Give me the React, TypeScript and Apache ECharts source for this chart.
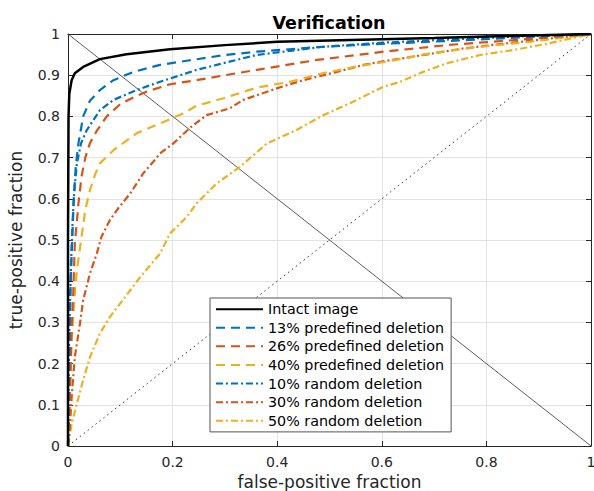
import React, { useEffect, useRef } from "react";
import * as echarts from "echarts";

const seriesNames = [
  "Intact image",
  "13% predefined deletion",
  "26% predefined deletion",
  "40% predefined deletion",
  "10% random deletion",
  "30% random deletion",
  "50% random deletion",
];

const intact = [[0,0],[0,0.5],[0.001,0.8],[0.0025,0.855],[0.007,0.888],[0.013,0.905],[0.029,0.92],[0.061,0.939],[0.112,0.951],[0.195,0.963],[0.3,0.973],[0.4,0.981],[0.5,0.984],[0.6,0.987],[0.7,0.99],[0.8,0.994],[0.9,0.997],[1,1]];
const pred13 = [[0,0],[0.002,0.2],[0.005,0.4],[0.008,0.5],[0.011,0.6],[0.015,0.68],[0.02,0.735],[0.029,0.8],[0.042,0.838],[0.061,0.864],[0.087,0.888],[0.125,0.908],[0.176,0.925],[0.227,0.935],[0.3,0.949],[0.361,0.957],[0.476,0.968],[0.6,0.976],[0.724,0.983],[0.883,0.993],[1,1]];
const pred26 = [[0,0],[0.003,0.1],[0.006,0.25],[0.01,0.37],[0.013,0.49],[0.02,0.589],[0.026,0.655],[0.033,0.7],[0.042,0.735],[0.055,0.765],[0.074,0.8],[0.1,0.83],[0.125,0.846],[0.15,0.86],[0.195,0.878],[0.246,0.888],[0.3,0.9],[0.361,0.913],[0.476,0.937],[0.603,0.957],[0.724,0.973],[0.851,0.985],[1,1]];
const pred40 = [[0,0],[0.004,0.135],[0.007,0.257],[0.013,0.37],[0.017,0.427],[0.024,0.49],[0.033,0.573],[0.042,0.621],[0.052,0.66],[0.061,0.686],[0.087,0.718],[0.131,0.759],[0.176,0.783],[0.22,0.807],[0.246,0.826],[0.297,0.844],[0.361,0.87],[0.424,0.884],[0.488,0.905],[0.552,0.921],[0.609,0.933],[0.692,0.953],[0.788,0.969],[0.883,0.981],[1,1]];
const rand10 = [[0,0],[0.002,0.25],[0.006,0.45],[0.009,0.55],[0.012,0.62],[0.017,0.686],[0.025,0.735],[0.036,0.767],[0.061,0.815],[0.087,0.84],[0.131,0.864],[0.176,0.884],[0.227,0.905],[0.246,0.913],[0.297,0.929],[0.36,0.949],[0.488,0.969],[0.603,0.979],[0.75,0.988],[0.9,0.996],[1,1]];
const rand30 = [[0,0],[0.004,0.055],[0.007,0.119],[0.013,0.216],[0.023,0.298],[0.029,0.354],[0.042,0.419],[0.055,0.467],[0.064,0.508],[0.08,0.548],[0.096,0.577],[0.119,0.613],[0.144,0.662],[0.163,0.69],[0.176,0.71],[0.201,0.734],[0.233,0.772],[0.265,0.803],[0.31,0.82],[0.335,0.84],[0.399,0.868],[0.45,0.888],[0.514,0.908],[0.565,0.925],[0.609,0.935],[0.66,0.945],[0.756,0.965],[0.851,0.979],[1,1]];
const rand50 = [[0,0],[0.002,0.014],[0.007,0.054],[0.017,0.103],[0.029,0.16],[0.042,0.216],[0.061,0.273],[0.08,0.313],[0.1,0.346],[0.119,0.378],[0.138,0.41],[0.176,0.467],[0.195,0.516],[0.227,0.556],[0.246,0.589],[0.284,0.637],[0.329,0.678],[0.38,0.734],[0.437,0.767],[0.488,0.803],[0.539,0.832],[0.603,0.872],[0.635,0.884],[0.673,0.905],[0.724,0.929],[0.788,0.949],[0.851,0.961],[0.915,0.976],[1,1]];

const chanceLine = [[0,0],[1,1]];
const antiDiagonal = [[0,1],[1,0]];

const BLUE = "#0072BD";
const ORANGE = "#D95319";
const YELLOW = "#EDB120";
const DASH = [9, 6];
const DASHDOT = [7, 3, 2, 3];
const FONT = "DejaVu Sans";
const TXT = "#262626";

export default function App() {
  const ref = useRef<HTMLDivElement>(null);
  useEffect(() => {
    if (!ref.current) return;
    const chart = echarts.init(ref.current, undefined, { renderer: "svg" });
    const curve = (name: string, data: number[][], color: string, type: any, width = 2.2) => ({
      name,
      type: "line",
      data,
      showSymbol: false,
      symbol: "none",
      lineStyle: { color, width, type },
      itemStyle: { color },
      z: 3,
    });
    const tickAxis = {
      min: 0,
      max: 1,
      type: "value",
      axisLine: { show: true, onZero: false, lineStyle: { color: TXT, width: 1 } },
      axisTick: { show: true, inside: true, length: 5, lineStyle: { color: TXT } },
    };
    chart.setOption({
      animation: false,
      backgroundColor: "#fff",
      title: {
        text: "Verification",
        left: 324,
        textAlign: "center",
        top: 9,
        textStyle: { fontFamily: FONT, fontSize: 17.5, fontWeight: "bold", color: "#000" },
      },
      grid: { left: 68, top: 34, right: 3, bottom: 45, show: false, outerBoundsMode: "none", containLabel: false },
      legend: {
        data: seriesNames,
        orient: "vertical",
        left: 210,
        top: 298,
        padding: [4, 7, 4, 5],
        itemWidth: 47,
        itemHeight: 14,
        itemGap: 4.3,
        backgroundColor: "#fff",
        borderColor: "#555",
        borderWidth: 1,
        borderRadius: 0,
        itemStyle: { opacity: 0 },
        textStyle: { fontFamily: FONT, fontSize: 14.3, lineHeight: 14.3, color: "#000" },
      },
      xAxis: [
        {
          ...tickAxis,
          interval: 0.2,
          position: "bottom",
          name: "false-positive fraction",
          nameLocation: "middle",
          nameGap: 25,
          nameTextStyle: { fontFamily: FONT, fontSize: 17, color: TXT },
          axisLabel: { fontFamily: FONT, fontSize: 14, color: TXT, margin: 9 },
          splitLine: { show: true, lineStyle: { color: "#e3e3e3", width: 1 } },
        },
        {
          ...tickAxis,
          interval: 0.2,
          position: "top",
          axisLabel: { show: false },
          splitLine: { show: false },
        },
      ],
      yAxis: [
        {
          ...tickAxis,
          interval: 0.1,
          position: "left",
          name: "true-positive fraction",
          nameLocation: "middle",
          nameGap: 44,
          nameTextStyle: { fontFamily: FONT, fontSize: 17, color: TXT },
          axisLabel: { fontFamily: FONT, fontSize: 14, color: TXT, margin: 8 },
          splitLine: { show: true, lineStyle: { color: "#e3e3e3", width: 1 } },
        },
        {
          ...tickAxis,
          interval: 0.1,
          position: "right",
          axisLabel: { show: false },
          splitLine: { show: false },
        },
      ],
      series: [
        {
          name: "anti",
          type: "line",
          data: antiDiagonal,
          symbol: "none",
          lineStyle: { color: "#333", width: 0.8, type: "solid" },
          z: 2,
          silent: true,
        },
        {
          name: "chance",
          type: "line",
          data: chanceLine,
          symbol: "none",
          lineStyle: { color: "#333", width: 1, type: [1.5, 3.5] },
          z: 2,
          silent: true,
        },
        curve(seriesNames[6], rand50, YELLOW, DASHDOT),
        curve(seriesNames[5], rand30, ORANGE, DASHDOT),
        curve(seriesNames[4], rand10, BLUE, DASHDOT),
        curve(seriesNames[3], pred40, YELLOW, DASH),
        curve(seriesNames[2], pred26, ORANGE, DASH),
        curve(seriesNames[1], pred13, BLUE, DASH),
        curve(seriesNames[0], intact, "#000", "solid", 2.5),
      ],
    });
    return () => chart.dispose();
  }, []);
  return (
    <div
      ref={ref}
      style={{ position: "absolute", left: 0, top: 0, width: 594, height: 491 }}
    />
  );
}
